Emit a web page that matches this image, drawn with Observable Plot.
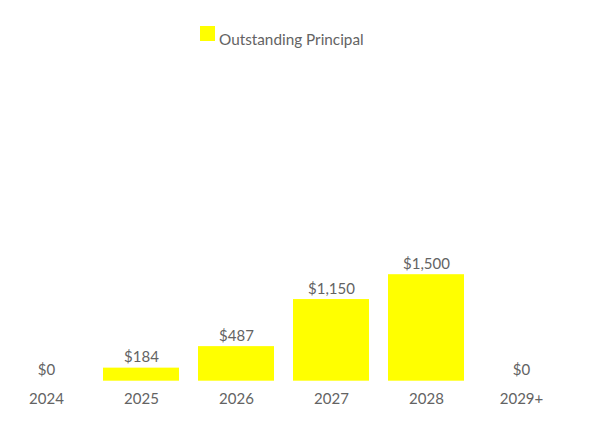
<!DOCTYPE html>
<html>
<head>
<meta charset="utf-8">
<script src="https://cdn.jsdelivr.net/npm/d3@7"></script>
<script src="https://cdn.jsdelivr.net/npm/@observablehq/plot@0.6"></script>
<style>
  body { margin: 0; background: #fff; font-family: Lato, "Open Sans", sans-serif; }
  #legend { position: relative; height: 60px; width: 590px; }
  #legend .sw { position: absolute; left: 200px; top: 26px; width: 15px; height: 15px; background: #ffff00; }
  #legend .lb { position: absolute; left: 219px; top: 31px; font-size: 15.3px; line-height: 17px; color: #636363; }
  #chart svg { display: block; }
</style>
</head>
<body>
<div id="legend"><div class="sw"></div><div class="lb">Outstanding Principal</div></div>
<div id="chart"></div>
<script>
const years = ["2024", "2025", "2026", "2027", "2028", "2029+"];
const principal = [0, 184, 487, 1150, 1500, 0];
const valueLabels = ["$0", "$184", "$487", "$1,150", "$1,500", "$0"];
const seriesName = "Outstanding Principal";

const data = years.map((y, i) => ({year: y, value: principal[i], label: valueLabels[i]}));

const chart = Plot.plot({
  width: 590,
  height: 378,
  marginLeft: 8,
  marginRight: 31,
  marginTop: 0,
  marginBottom: 57,
  style: {fontFamily: "Lato, 'Open Sans', sans-serif", fontSize: "15px", color: "#636363", background: "#fff"},
  x: {domain: years, padding: 0.2, paddingOuter: 0, label: null, tickSize: 0, tickPadding: 12},
  y: {domain: [0, 1500], range: [320.7, 214.2], axis: null},
  marks: [
    Plot.barY(data, {x: "year", y: "value", fill: "#ffff00"}),
    Plot.text(data, {x: "year", y: "value", text: "label", lineAnchor: "bottom", dy: -6, fill: "#636363", fontSize: 15})
  ]
});
document.getElementById("chart").appendChild(chart);
</script>
</body>
</html>
